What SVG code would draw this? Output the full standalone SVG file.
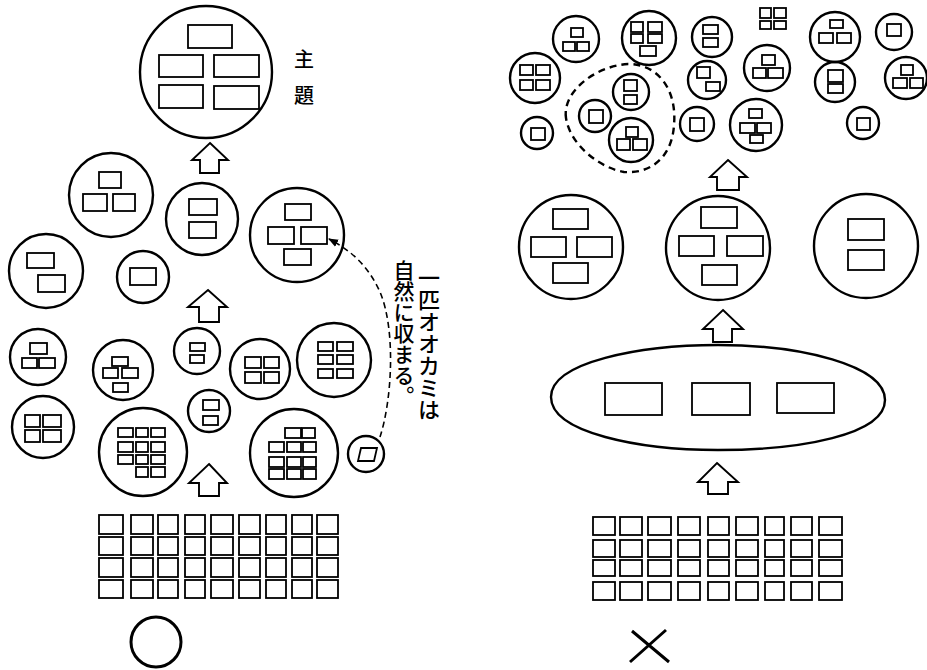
<svg xmlns="http://www.w3.org/2000/svg" width="927" height="670" viewBox="0 0 927 670">
<style>
.c{fill:none;stroke:#000;stroke-width:2.4}
.r{fill:none;stroke:#000;stroke-width:1.8}
.a{fill:#fff;stroke:#000;stroke-width:1.9;stroke-linejoin:miter}
.d{fill:none;stroke:#000;stroke-width:2.4;stroke-dasharray:7 5}
.t{font-family:"Noto Sans CJK JP","Noto Sans CJK SC",sans-serif;fill:#000}
</style>
<defs>
<marker id="ah" viewBox="0 0 10 10" refX="9" refY="5" markerWidth="10" markerHeight="10" markerUnits="userSpaceOnUse" orient="auto"><path d="M0,1 L10,5 L0,9 z" fill="#000"/></marker>
</defs>
<rect width="927" height="670" fill="#fff"/>

<!-- LEFT -->
<g id="theme">
<circle class="c" cx="206" cy="72" r="66"/>
<rect class="r" x="188" y="25" width="44" height="23"/>
<rect class="r" x="159" y="55" width="44" height="22"/>
<rect class="r" x="214" y="55" width="45" height="22"/>
<rect class="r" x="159" y="85" width="44" height="23"/>
<rect class="r" x="214" y="86" width="45" height="23"/>
<text class="t" font-size="20" font-weight="500" text-anchor="middle"><tspan x="304" y="67">主</tspan><tspan x="304" y="103">題</tspan></text>
</g>
<g id="l2a"><circle class="c" cx="111" cy="195" r="42"/>
<rect class="r" x="99" y="172" width="22" height="16"/><rect class="r" x="83" y="194" width="24" height="17"/><rect class="r" x="113" y="194" width="22" height="17"/></g>
<g id="l2b"><circle class="c" cx="202" cy="219" r="36"/>
<rect class="r" x="189" y="199" width="28" height="16"/><rect class="r" x="189" y="222" width="27" height="16"/></g>
<g id="l2c"><circle class="c" cx="297" cy="235" r="47"/>
<rect class="r" x="285" y="204" width="26" height="16"/><rect class="r" x="268" y="227" width="26" height="17"/><rect class="r" x="301" y="227" width="26" height="17"/><rect class="r" x="284" y="249" width="27" height="16"/></g>
<g id="l3a"><circle class="c" cx="46" cy="271" r="37"/>
<rect class="r" x="27" y="253" width="27" height="15"/><rect class="r" x="38" y="275" width="27" height="17"/></g>
<g id="l3b"><circle class="c" cx="143" cy="277" r="26"/>
<rect class="r" x="130" y="268" width="26" height="17"/></g>
<g id="l4a"><circle class="c" cx="38" cy="357" r="28"/>
<rect class="r" x="30" y="343" width="17" height="11"/><rect class="r" x="22" y="358" width="15" height="10"/><rect class="r" x="39" y="358" width="16" height="10"/></g>
<g id="l4b"><circle class="c" cx="43" cy="427" r="31"/>
<rect class="r" x="25" y="415" width="15" height="12"/><rect class="r" x="43" y="415" width="18" height="12"/><rect class="r" x="25" y="430" width="15" height="12"/><rect class="r" x="43" y="430" width="18" height="12"/></g>
<g id="l4c"><circle class="c" cx="123" cy="370" r="30"/>
<rect class="r" x="112" y="357" width="16" height="9"/><rect class="r" x="103" y="368" width="15" height="10"/><rect class="r" x="122" y="368" width="16" height="10"/><rect class="r" x="113" y="383" width="15" height="9"/></g>
<g id="l4d"><circle class="c" cx="197" cy="351" r="23"/>
<rect class="r" x="190" y="343" width="15" height="8"/><rect class="r" x="190" y="355" width="14" height="8"/></g>
<g id="l4e"><circle class="c" cx="209" cy="411" r="21"/>
<rect class="r" x="203" y="400" width="16" height="10"/><rect class="r" x="203" y="416" width="15" height="9"/></g>
<g id="l4f"><circle class="c" cx="260" cy="369" r="30"/>
<rect class="r" x="245" y="357" width="16" height="11"/><rect class="r" x="264" y="357" width="15" height="11"/><rect class="r" x="245" y="372" width="16" height="11"/><rect class="r" x="264" y="372" width="15" height="11"/></g>
<g id="l4g"><circle class="c" cx="334" cy="360" r="37"/>
<rect class="r" x="318" y="342" width="15" height="9"/><rect class="r" x="337" y="342" width="16" height="9"/><rect class="r" x="318" y="355" width="15" height="9"/><rect class="r" x="337" y="355" width="16" height="9"/><rect class="r" x="318" y="369" width="15" height="9"/><rect class="r" x="337" y="369" width="16" height="9"/></g>
<g id="l5a"><circle class="c" cx="143" cy="452" r="44"/>
<rect class="r" x="118" y="428" width="15" height="9"/><rect class="r" x="136" y="428" width="12" height="9"/><rect class="r" x="151" y="428" width="14" height="9"/>
<rect class="r" x="118" y="442" width="15" height="10"/><rect class="r" x="136" y="442" width="12" height="10"/><rect class="r" x="151" y="442" width="14" height="10"/>
<rect class="r" x="118" y="455" width="15" height="9"/><rect class="r" x="136" y="455" width="12" height="9"/><rect class="r" x="151" y="455" width="14" height="9"/>
<rect class="r" x="136" y="467" width="12" height="10"/><rect class="r" x="151" y="467" width="14" height="10"/></g>
<g id="l5b"><circle class="c" cx="294" cy="453" r="44"/>
<rect class="r" x="285" y="428" width="16" height="10"/><rect class="r" x="302" y="428" width="13" height="10"/>
<rect class="r" x="269" y="442" width="15" height="10"/><rect class="r" x="287" y="442" width="14" height="10"/><rect class="r" x="303" y="442" width="13" height="10"/>
<rect class="r" x="269" y="457" width="15" height="10"/><rect class="r" x="287" y="457" width="14" height="10"/><rect class="r" x="303" y="457" width="13" height="10"/>
<rect class="r" x="269" y="469" width="15" height="10"/><rect class="r" x="287" y="469" width="14" height="10"/><rect class="r" x="303" y="469" width="13" height="10"/></g>
<g id="lone"><circle class="c" cx="366" cy="454" r="18"/>
<path class="r" d="M361 448 L377 448 L374 461 L358 461 Z"/></g>
<g id="note">
<text class="t" x="429" y="267" font-size="22" font-weight="500" writing-mode="vertical-rl">一匹オオカミは</text>
<text class="t" x="404" y="260" font-size="21" font-weight="500" writing-mode="vertical-rl">自然に収まる。</text>
</g>
<g id="lgrid">
<rect class="r" x="99" y="515" width="24" height="19"/><rect class="r" x="131" y="515" width="22" height="19"/><rect class="r" x="158" y="515" width="20" height="19"/><rect class="r" x="185" y="515" width="20" height="19"/><rect class="r" x="211" y="515" width="22" height="19"/><rect class="r" x="239" y="515" width="21" height="19"/><rect class="r" x="266" y="515" width="20" height="19"/><rect class="r" x="292" y="515" width="20" height="19"/><rect class="r" x="317" y="515" width="21" height="19"/>
<rect class="r" x="99" y="537" width="24" height="18"/><rect class="r" x="131" y="537" width="22" height="18"/><rect class="r" x="158" y="537" width="20" height="18"/><rect class="r" x="185" y="537" width="20" height="18"/><rect class="r" x="211" y="537" width="22" height="18"/><rect class="r" x="239" y="537" width="21" height="18"/><rect class="r" x="266" y="537" width="20" height="18"/><rect class="r" x="292" y="537" width="20" height="18"/><rect class="r" x="317" y="537" width="21" height="18"/>
<rect class="r" x="99" y="558" width="24" height="19"/><rect class="r" x="131" y="558" width="22" height="19"/><rect class="r" x="158" y="558" width="20" height="19"/><rect class="r" x="185" y="558" width="20" height="19"/><rect class="r" x="211" y="558" width="22" height="19"/><rect class="r" x="239" y="558" width="21" height="19"/><rect class="r" x="266" y="558" width="20" height="19"/><rect class="r" x="292" y="558" width="20" height="19"/><rect class="r" x="317" y="558" width="21" height="19"/>
<rect class="r" x="99" y="580" width="24" height="18"/><rect class="r" x="131" y="580" width="22" height="18"/><rect class="r" x="158" y="580" width="20" height="18"/><rect class="r" x="185" y="580" width="20" height="18"/><rect class="r" x="211" y="580" width="22" height="18"/><rect class="r" x="239" y="580" width="21" height="18"/><rect class="r" x="266" y="580" width="20" height="18"/><rect class="r" x="292" y="580" width="20" height="18"/><rect class="r" x="317" y="580" width="21" height="18"/>
</g>
<g id="good"><circle cx="156" cy="642" r="25" fill="none" stroke="#000" stroke-width="3"/></g>

<!-- RIGHT -->
<g id="p1"><circle class="c" cx="576" cy="39" r="23"/><rect class="r" x="571" y="28" width="12" height="9"/><rect class="r" x="563" y="42" width="12" height="9"/><rect class="r" x="577" y="42" width="12" height="9"/></g>
<g id="p2"><circle class="c" cx="649" cy="38" r="27"/><rect class="r" x="631" y="22" width="12" height="10"/><rect class="r" x="648" y="22" width="14" height="10"/><rect class="r" x="631" y="34" width="12" height="9"/><rect class="r" x="648" y="34" width="14" height="9"/><rect class="r" x="640" y="46" width="16" height="10"/></g>
<g id="p3"><circle class="c" cx="712" cy="37" r="20"/><rect class="r" x="703" y="25" width="15" height="9"/><rect class="r" x="703" y="38" width="15" height="9"/></g>
<g id="p4"><rect class="r" x="760" y="8" width="11" height="10"/><rect class="r" x="774" y="8" width="12" height="10"/><rect class="r" x="760" y="21" width="11" height="8"/><rect class="r" x="774" y="21" width="12" height="8"/></g>
<g id="p5"><circle class="c" cx="835" cy="37" r="25"/><rect class="r" x="830" y="20" width="13" height="8"/><rect class="r" x="819" y="33" width="14" height="10"/><rect class="r" x="837" y="33" width="14" height="10"/></g>
<g id="p6"><circle class="c" cx="894" cy="32" r="18"/><rect class="r" x="887" y="24" width="14" height="12"/></g>
<g id="p7"><circle class="c" cx="535" cy="78" r="25"/><rect class="r" x="520" y="65" width="13" height="10"/><rect class="r" x="536" y="65" width="14" height="10"/><rect class="r" x="520" y="80" width="13" height="10"/><rect class="r" x="536" y="80" width="14" height="10"/></g>
<g id="p8"><circle class="c" cx="537" cy="133" r="16"/><rect class="r" x="531" y="128" width="14" height="12"/></g>
<g id="q1"><circle class="c" cx="631" cy="92" r="18"/><rect class="r" x="624" y="80" width="13" height="11"/><rect class="r" x="624" y="95" width="13" height="9"/></g>
<g id="q2"><circle class="c" cx="595" cy="116" r="16"/><rect class="r" x="589" y="110" width="14" height="13"/></g>
<g id="q3"><circle class="c" cx="631" cy="140" r="22"/><rect class="r" x="626" y="127" width="12" height="10"/><rect class="r" x="617" y="139" width="13" height="11"/><rect class="r" x="633" y="139" width="14" height="11"/></g>
<g id="p10"><circle class="c" cx="707" cy="80" r="19"/><rect class="r" x="697" y="67" width="13" height="11"/><rect class="r" x="706" y="82" width="14" height="9"/></g>
<g id="p11"><circle class="c" cx="767" cy="68" r="23"/><rect class="r" x="762" y="55" width="13" height="10"/><rect class="r" x="753" y="68" width="13" height="10"/><rect class="r" x="768" y="68" width="15" height="10"/></g>
<g id="p12"><circle class="c" cx="835" cy="82" r="20"/><rect class="r" x="828" y="70" width="15" height="12"/><rect class="r" x="828" y="84" width="15" height="9"/></g>
<g id="p13"><circle class="c" cx="906" cy="78" r="21"/><rect class="r" x="901" y="65" width="12" height="10"/><rect class="r" x="893" y="78" width="14" height="10"/><rect class="r" x="910" y="78" width="13" height="10"/></g>
<g id="p14"><circle class="c" cx="863" cy="123" r="16"/><rect class="r" x="857" y="118" width="13" height="12"/></g>
<g id="p15"><circle class="c" cx="697" cy="124" r="17"/><rect class="r" x="690" y="118" width="14" height="13"/></g>
<g id="p16"><circle class="c" cx="756" cy="125" r="26"/><rect class="r" x="749" y="109" width="13" height="9"/><rect class="r" x="740" y="123" width="15" height="10"/><rect class="r" x="757" y="123" width="14" height="10"/><rect class="r" x="750" y="135" width="13" height="8"/></g>
<g id="group"><path class="d" d="M566 118 C562 92 595 66 628 64 C660 64 677 92 674 125 C672 158 650 174 624 172 C600 168 570 145 566 118 Z"/></g>
<g id="r1"><circle class="c" cx="571" cy="247" r="52"/><rect class="r" x="553" y="209" width="35" height="20"/><rect class="r" x="531" y="237" width="35" height="20"/><rect class="r" x="577" y="237" width="35" height="20"/><rect class="r" x="553" y="263" width="35" height="20"/></g>
<g id="r2"><circle class="c" cx="718" cy="248" r="52"/><rect class="r" x="701" y="207" width="36" height="21"/><rect class="r" x="679" y="236" width="35" height="20"/><rect class="r" x="727" y="236" width="36" height="20"/><rect class="r" x="702" y="265" width="35" height="20"/></g>
<g id="r3"><circle class="c" cx="866" cy="246" r="52"/><rect class="r" x="848" y="219" width="36" height="21"/><rect class="r" x="848" y="250" width="36" height="20"/></g>
<g id="oval"><path class="c" d="M551 397 C551 362 640 345 718 345 C800 345 885 365 885 400 C885 435 800 450 718 450 C640 450 551 433 551 397 Z"/>
<rect class="r" x="605" y="383" width="57" height="32"/><rect class="r" x="692" y="383" width="58" height="32"/><rect class="r" x="777" y="383" width="57" height="30"/></g>
<g id="rgrid">
<rect class="r" x="593" y="517" width="22" height="18"/><rect class="r" x="620" y="517" width="22" height="18"/><rect class="r" x="648" y="517" width="23" height="18"/><rect class="r" x="678" y="517" width="22" height="18"/><rect class="r" x="708" y="517" width="21" height="18"/><rect class="r" x="736" y="517" width="22" height="18"/><rect class="r" x="765" y="517" width="19" height="18"/><rect class="r" x="791" y="517" width="21" height="18"/><rect class="r" x="819" y="517" width="23" height="18"/>
<rect class="r" x="593" y="540" width="22" height="17"/><rect class="r" x="620" y="540" width="22" height="17"/><rect class="r" x="648" y="540" width="23" height="17"/><rect class="r" x="678" y="540" width="22" height="17"/><rect class="r" x="708" y="540" width="21" height="17"/><rect class="r" x="736" y="540" width="22" height="17"/><rect class="r" x="765" y="540" width="19" height="17"/><rect class="r" x="791" y="540" width="21" height="17"/><rect class="r" x="819" y="540" width="23" height="17"/>
<rect class="r" x="593" y="560" width="22" height="16"/><rect class="r" x="620" y="560" width="22" height="16"/><rect class="r" x="648" y="560" width="23" height="16"/><rect class="r" x="678" y="560" width="22" height="16"/><rect class="r" x="708" y="560" width="21" height="16"/><rect class="r" x="736" y="560" width="22" height="16"/><rect class="r" x="765" y="560" width="19" height="16"/><rect class="r" x="791" y="560" width="21" height="16"/><rect class="r" x="819" y="560" width="23" height="16"/>
<rect class="r" x="593" y="582" width="22" height="18"/><rect class="r" x="620" y="582" width="22" height="18"/><rect class="r" x="648" y="582" width="23" height="18"/><rect class="r" x="678" y="582" width="22" height="18"/><rect class="r" x="708" y="582" width="21" height="18"/><rect class="r" x="736" y="582" width="22" height="18"/><rect class="r" x="765" y="582" width="19" height="18"/><rect class="r" x="791" y="582" width="21" height="18"/><rect class="r" x="819" y="582" width="23" height="18"/>
</g>
<g id="bad"><path d="M632 631 L669 662 M666 630 L630 662" fill="none" stroke="#000" stroke-width="3"/></g>

<g id="connectors">
<polygon class="a" points="210,143 228,160 219,160 219,173 200,173 200,160 192,160"/>
<polygon class="a" points="208,290 227,307 219,307 219,322 199,322 199,307 188,307"/>
<polygon class="a" points="209,464 227,483 219,483 219,496 199,496 199,483 189,483"/>
<polygon class="a" points="728,160 747,177 739,177 739,190 717,190 717,177 710,177"/>
<polygon class="a" points="723,310 743,329 732,329 732,342 713,342 713,329 703,329"/>
<polygon class="a" points="717,463 738,482 728,482 728,494 708,494 708,482 698,482"/>
<path d="M380 437 C392 400 396 330 380 292 C368 265 350 250 329 239" fill="none" stroke="#000" stroke-width="1.6" stroke-dasharray="6 4" marker-end="url(#ah)"/>
</g>
</svg>
